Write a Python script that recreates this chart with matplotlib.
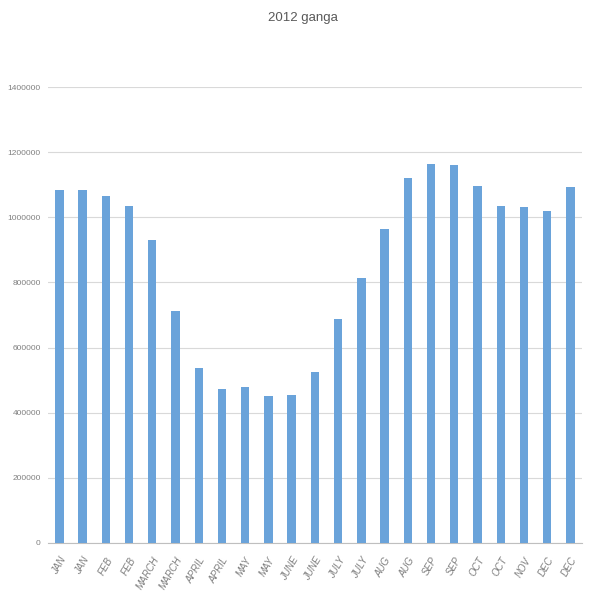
import matplotlib
matplotlib.use("Agg")
import matplotlib.pyplot as plt

# month labels, two readings per month (only one for NOV)
months = ["JAN", "JAN", "FEB", "FEB", "MARCH", "MARCH", "APRIL", "APRIL",
          "MAY", "MAY", "JUNE", "JUNE", "JULY", "JULY", "AUG", "AUG",
          "SEP", "SEP", "OCT", "OCT", "NOV", "DEC", "DEC"]
values = [1084000, 1084000, 1066000, 1034000, 931000, 712000, 537000, 474000,
          478000, 451000, 455000, 524000, 689000, 813000, 963000, 1122000,
          1165000, 1162000, 1095000, 1036000, 1033000, 1019000, 1092000]
yticks = [0, 200000, 400000, 600000, 800000, 1000000, 1200000, 1400000]

font = ["Liberation Sans", "DejaVu Sans"]

fig = plt.figure(figsize=(6.05, 6.14), dpi=100)
ax = fig.add_axes([0.079, 0.116, 0.883, 0.742])

x = range(len(months))
ax.bar(x, values, width=0.36, color="#6aa3da", zorder=3)

ax.set_xlim(-0.5, len(months) - 0.5)
ax.set_ylim(0, 1400000)
ax.set_yticks(yticks)
ax.set_yticklabels([str(v) for v in yticks], fontsize=6, color="#808080",
                   family=font)
ax.set_xticks(list(x))
ax.set_xticklabels(months, rotation=60, ha="right", rotation_mode="anchor",
                   fontsize=7, color="#7f7f7f", style="italic", family=font)

ax.grid(axis="y", color="#d9d9d9", linewidth=0.8, zorder=0)
for s in ["top", "right", "left"]:
    ax.spines[s].set_visible(False)
ax.spines["bottom"].set_color("#bfbfbf")
ax.tick_params(axis="y", length=0, pad=5)
ax.tick_params(axis="x", length=0, pad=9)

fig.text(0.5, 0.971, "2012 ganga", ha="center", va="center",
         fontsize=9.5, color="#595959", family=font)

fig.savefig("out.png", dpi=100)
